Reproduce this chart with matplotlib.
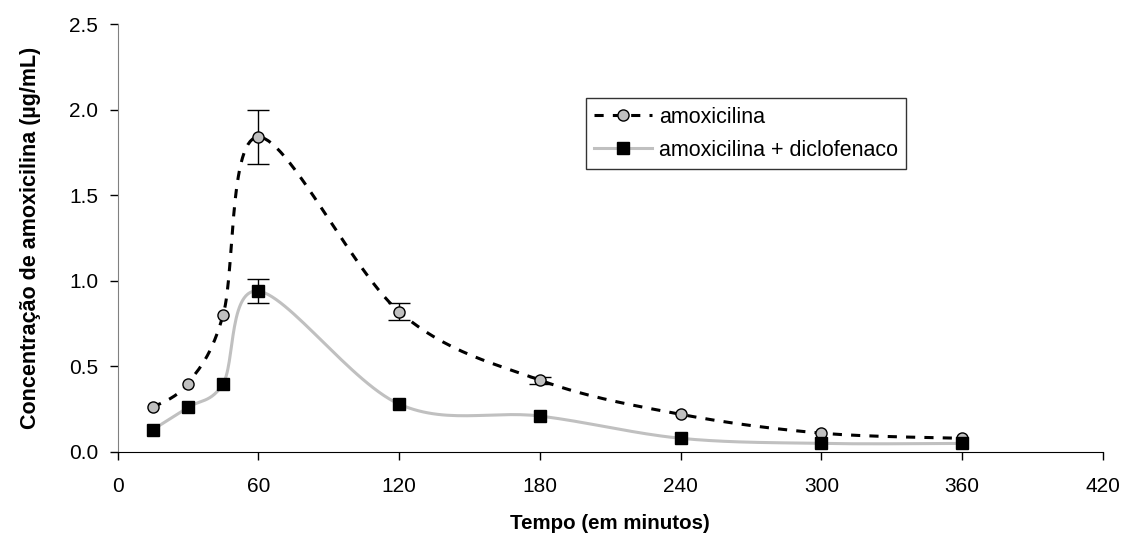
import numpy as np
import matplotlib.pyplot as plt

plt.rcParams['font.family'] = ['Liberation Sans', 'DejaVu Sans']

# dados (tempo em minutos, concentração em µg/mL)
tempo = [15, 30, 45, 60, 120, 180, 240, 300, 360]
amox = [0.26, 0.40, 0.80, 1.84, 0.82, 0.42, 0.22, 0.11, 0.08]
amox_err = [0.0, 0.0, 0.0, 0.16, 0.05, 0.02, 0.0, 0.0, 0.0]
amox_diclo = [0.13, 0.26, 0.40, 0.94, 0.28, 0.21, 0.08, 0.05, 0.05]
amox_diclo_err = [0.0, 0.0, 0.0, 0.07, 0.0, 0.0, 0.0, 0.0, 0.0]


def suavizar(x, y, n=30):
    # curva suavizada tipo Excel (Bezier com pontos de controle de Catmull-Rom)
    x = np.asarray(x, float)
    y = np.asarray(y, float)
    px, py = [], []
    m = len(x)
    for i in range(m - 1):
        i0 = max(i - 1, 0)
        i3 = min(i + 2, m - 1)
        c1x = x[i] + (x[i + 1] - x[i0]) / 6
        c1y = y[i] + (y[i + 1] - y[i0]) / 6
        c2x = x[i + 1] - (x[i3] - x[i]) / 6
        c2y = y[i + 1] - (y[i3] - y[i]) / 6
        t = np.linspace(0, 1, n)
        a = (1 - t) ** 3
        b = 3 * (1 - t) ** 2 * t
        c = 3 * (1 - t) * t ** 2
        d = t ** 3
        px.extend(a * x[i] + b * c1x + c * c2x + d * x[i + 1])
        py.extend(a * y[i] + b * c1y + c * c2y + d * y[i + 1])
    return px, py


def barras(ax, x, y, err):
    # só desenha barras de erro onde o erro é maior que zero
    sel = [i for i, e in enumerate(err) if e > 0]
    ax.errorbar([x[i] for i in sel], [y[i] for i in sel], yerr=[err[i] for i in sel],
                fmt='none', ecolor='black', elinewidth=1, capsize=8, zorder=3)


fig = plt.figure(figsize=(11.3, 5.34), dpi=100)
ax = fig.add_axes([0.104, 0.1536, 0.872, 0.8014])

# curvas
sx, sy = suavizar(tempo, amox)
ax.plot(sx, sy, color='black', linestyle=(0, (3, 3)), linewidth=2.2, zorder=2)
sx, sy = suavizar(tempo, amox_diclo)
ax.plot(sx, sy, color='#c0c0c0', linestyle='-', linewidth=2.2, zorder=1)

# barras de erro e pontos
barras(ax, tempo, amox, amox_err)
barras(ax, tempo, amox_diclo, amox_diclo_err)
ax.plot(tempo, amox, 'o', markersize=8, markerfacecolor='#c0c0c0',
        markeredgecolor='black', markeredgewidth=1, zorder=4)
ax.plot(tempo, amox_diclo, 's', markersize=9, markerfacecolor='black',
        markeredgecolor='black', zorder=4)

# legenda
h1, = ax.plot([], [], color='black', linestyle=(0, (3, 3)), linewidth=2.2,
              marker='o', markersize=8, markerfacecolor='#c0c0c0', markeredgecolor='black')
h2, = ax.plot([], [], color='#c0c0c0', linewidth=2.2,
              marker='s', markersize=9, markerfacecolor='black', markeredgecolor='black')
leg = ax.legend([h1, h2], ['amoxicilina', 'amoxicilina + diclofenaco'],
                loc='upper left', bbox_to_anchor=(0.475, 0.827), borderaxespad=0,
                fontsize=15.5, frameon=True, fancybox=False, edgecolor='black',
                handlelength=2.7, borderpad=0.4, labelspacing=0.55, handletextpad=0.3)
leg.get_frame().set_linewidth(1)

# eixos
ax.set_xlim(0, 420)
ax.set_ylim(0, 2.5)
ax.set_xticks(range(0, 421, 60))
ax.set_yticks([0.0, 0.5, 1.0, 1.5, 2.0, 2.5])
ax.set_yticklabels(['0.0', '0.5', '1.0', '1.5', '2.0', '2.5'])
ax.tick_params(axis='both', direction='out', labelsize=15, length=6, width=1)
ax.tick_params(axis='y', pad=8)
ax.tick_params(axis='x', pad=12)
ax.spines['top'].set_visible(False)
ax.spines['right'].set_visible(False)
ax.spines['left'].set_color('#808080')
ax.set_xlabel('Tempo (em minutos)', fontsize=14.8, fontweight='bold', labelpad=13)
ax.set_ylabel('Concentração de amoxicilina (µg/mL)', fontsize=15.5, fontweight='bold', labelpad=20)

plt.savefig('out.png', dpi=100)
